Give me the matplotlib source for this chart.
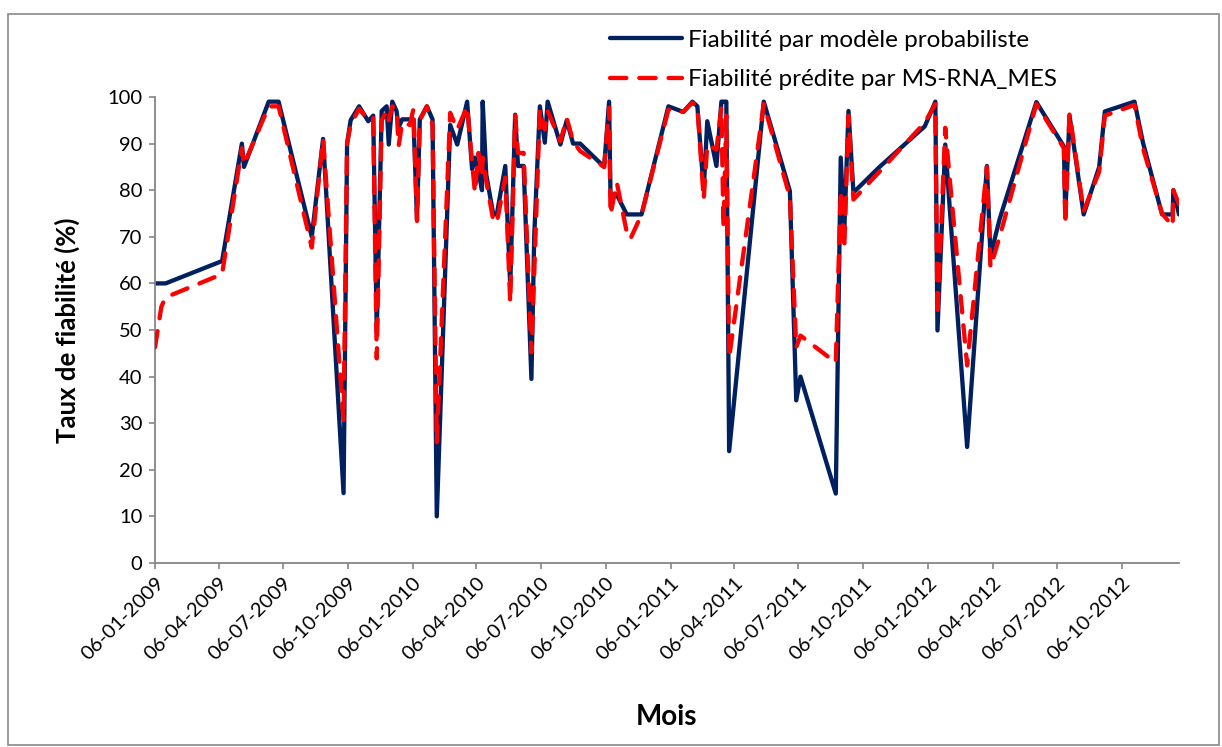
import matplotlib
matplotlib.use("Agg")
import matplotlib.pyplot as plt
import matplotlib.dates as mdates
from matplotlib.patches import Rectangle
import pandas as pd

# Observation dates (monthly records, irregular spacing)
dates = [
    "2009-01-06", "2009-01-15", "2009-01-21", "2009-04-11", "2009-05-09", "2009-05-12",
    "2009-06-16", "2009-06-30", "2009-08-16", "2009-09-01", "2009-09-30", "2009-10-05",
    "2009-10-10", "2009-10-22", "2009-11-04", "2009-11-11", "2009-11-16", "2009-11-23",
    "2009-11-30", "2009-12-03", "2009-12-08", "2009-12-14", "2009-12-17", "2009-12-22",
    "2010-01-02", "2010-01-07", "2010-01-12", "2010-01-16", "2010-01-26", "2010-02-03",
    "2010-02-09", "2010-02-28", "2010-03-10", "2010-03-24", "2010-03-31", "2010-04-04",
    "2010-04-09", "2010-04-14", "2010-04-15", "2010-04-20", "2010-04-30", "2010-05-05",
    "2010-05-17", "2010-05-24", "2010-05-31", "2010-06-04", "2010-06-12", "2010-06-23",
    "2010-06-27", "2010-07-05", "2010-07-12", "2010-07-16", "2010-08-03", "2010-08-12",
    "2010-08-21", "2010-08-31", "2010-10-04", "2010-10-11", "2010-10-13", "2010-10-22",
    "2010-11-05", "2010-11-10", "2010-11-26", "2011-01-03", "2011-01-24", "2011-02-06",
    "2011-02-13", "2011-02-22", "2011-02-27", "2011-03-12", "2011-03-19", "2011-03-22",
    "2011-03-26", "2011-03-30", "2011-05-18", "2011-06-24", "2011-07-03", "2011-07-09",
    "2011-08-28", "2011-09-04", "2011-09-09", "2011-09-15", "2011-09-22", "2011-10-29",
    "2012-01-01", "2012-01-16", "2012-01-19", "2012-01-30", "2012-02-05", "2012-03-01",
    "2012-03-29", "2012-04-03", "2012-04-16", "2012-06-07", "2012-07-16", "2012-07-18",
    "2012-07-24", "2012-08-13", "2012-09-04", "2012-09-12", "2012-10-24", "2012-11-05",
    "2012-12-02", "2012-12-17", "2012-12-18", "2012-12-26",
]

# Reliability from the probabilistic model (%)
fiab_proba = [
    60, 60, 60, 64.8, 90, 85,
    99, 99, 70, 91, 15, 90,
    95, 98, 94.8, 96, 49.5, 97,
    98, 89.8, 99, 97, 93.5, 95.2,
    95.2, 95.2, 73.8, 95.2, 98, 95.2,
    10, 94, 89.8, 99, 84.5, 87,
    84, 80, 99, 83.4, 74.8, 74.8,
    85.2, 59.5, 96.2, 85.2, 85.2, 39.5,
    70.2, 98, 90.2, 99, 89.8, 95,
    90, 90, 85, 99, 79, 79,
    74.8, 74.8, 74.8, 98, 96.8, 99,
    98, 80, 94.8, 85.2, 99, 99,
    99, 24, 99, 79.8, 34.9, 40,
    14.9, 87, 71, 97, 79.5, 85,
    93.7, 99, 49.9, 89.8, 76.9, 24.9,
    85.2, 65.9, 73.8, 98.9, 89.4, 74.8,
    96, 74.8, 85, 96.9, 99, 90.2,
    74.8, 74.8, 80, 74.8,
]

# Reliability predicted by the MS-RNA_MES network (%)
fiab_rna = [
    46.3, 55, 57, 62, 89, 85.5,
    98, 98, 67.7, 91, 30.6, 90,
    94, 97.5, 95, 95.5, 43.9, 95,
    97, 95, 98, 97.5, 89.5, 94.5,
    94, 97.5, 73.4, 95, 98, 94,
    25.7, 96.6, 93, 98, 86, 79.5,
    88, 83, 87, 82, 73.5, 73,
    82.7, 55.9, 96, 88, 88, 45.2,
    62.3, 97.3, 93, 97, 90.5, 95.5,
    90.5, 88.4, 85, 97.7, 74.8, 81.6,
    71, 69.5, 74.8, 97.3, 96.8, 98.8,
    98, 78, 89.8, 88.7, 97.7, 72,
    96, 44, 98.5, 78.5, 46.3, 48.8,
    43, 80, 67.4, 96, 78, 84,
    94.5, 98.5, 53, 93.4, 83, 42.4,
    85, 63.4, 70, 98.5, 89, 72.7,
    96.5, 75.5, 84, 96, 98.3, 89,
    75, 72.3, 80, 77,
]

# Quarterly date ticks
tick_labels = [
    "06-01-2009", "06-04-2009", "06-07-2009", "06-10-2009",
    "06-01-2010", "06-04-2010", "06-07-2010", "06-10-2010",
    "06-01-2011", "06-04-2011", "06-07-2011", "06-10-2011",
    "06-01-2012", "06-04-2012", "06-07-2012", "06-10-2012",
]

label_proba = "Fiabilité par modèle probabiliste"
label_rna = "Fiabilité prédite par MS-RNA_MES"

x = pd.to_datetime(dates)
ticks = pd.to_datetime(tick_labels, format="%d-%m-%Y")

plt.rcParams["font.family"] = ["Lato", "DejaVu Sans"]

W, H = 1222, 747
fig = plt.figure(figsize=(W / 100, H / 100), dpi=100)
fig.patch.set_facecolor("white")

# chart border
fig.patches.append(Rectangle((8 / W, 2 / H), 1211 / W, 731 / H, transform=fig.transFigure,
                             fill=False, edgecolor="#898989", linewidth=1.2))

ax = fig.add_axes([155 / W, 1 - 563 / H, 1024 / W, 466 / H])

navy = "#002060"
ax.plot(x, fiab_proba, color=navy, linewidth=3.1, solid_joinstyle="round",
        solid_capstyle="round", label=label_proba, zorder=2)
ax.plot(x, fiab_rna, color="#FF0000", linewidth=3.1, linestyle=(0, (3.8, 3.0)),
        dash_capstyle="round", dash_joinstyle="round", label=label_rna, zorder=3)

ax.set_xlim(x[0], x[-1])
ax.set_ylim(0, 100)
ax.set_yticks(range(0, 101, 10))

ax.xaxis.set_major_locator(plt.FixedLocator(mdates.date2num(ticks)))
ax.set_xticklabels(tick_labels, rotation=45, ha="right", va="top", rotation_mode="anchor")

for side in ("top", "right"):
    ax.spines[side].set_visible(False)
for side in ("left", "bottom"):
    ax.spines[side].set_color("#868686")
    ax.spines[side].set_linewidth(1.3)

ax.tick_params(axis="both", direction="out", length=4, width=1.2, color="#868686",
               labelsize=14.5, labelcolor="black")
ax.tick_params(axis="y", pad=5)
ax.tick_params(axis="x", pad=4)

ax.set_xlabel("Mois", fontsize=20, fontweight="bold")
ax.xaxis.set_label_coords(0.5, -0.303)
ax.set_ylabel("Taux de fiabilité (%)", fontsize=18.5, fontweight="bold")
ax.yaxis.set_label_coords(-0.073, 0.5)

leg = fig.legend(loc="upper left", bbox_to_anchor=(588 / W, 1 - 8 / H), frameon=False,
                 fontsize=17.5, handlelength=2.95, handletextpad=0.25, labelspacing=0.75)

fig.savefig("out.png", dpi=100, facecolor="white")
